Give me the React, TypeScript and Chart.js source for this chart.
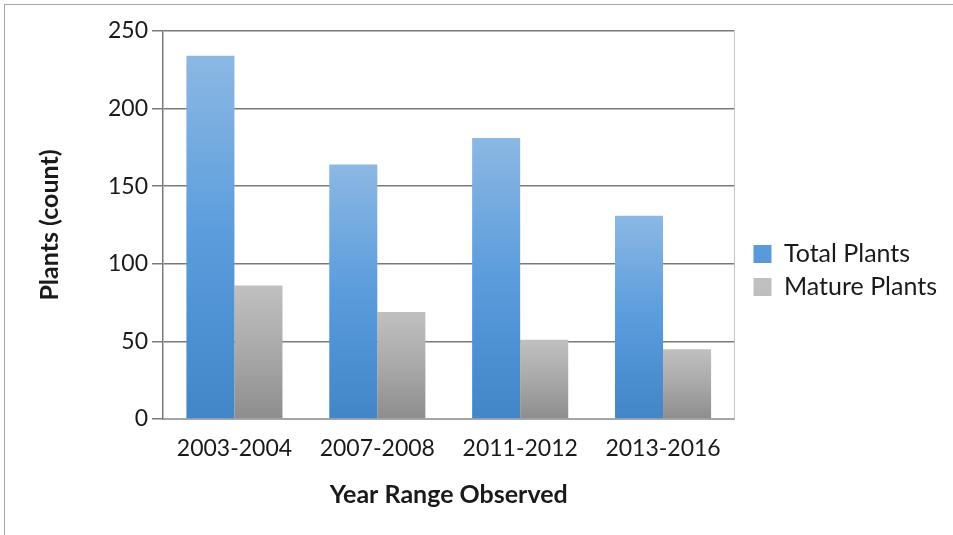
import React, { useEffect, useRef } from "react";
import { Chart, registerables } from "chart.js";

Chart.register(...registerables);

// Survey periods and observed plant counts
const yearRanges = ["2003-2004", "2007-2008", "2011-2012", "2013-2016"];
const totalPlants = [234, 164, 181, 131];
const maturePlants = [86, 69, 51, 45];
const yTicks = [0, 50, 100, 150, 200, 250];

const FONT = "Lato, 'Open Sans', sans-serif";

const blueStops = ["#8cb8e3", "#5a9cdc", "#4286c8"];
const grayStops = ["#c0c0c0", "#a9a9a9", "#8d8d8d"];

// Vertical gradient running over each bar's own height
const barGradient = (stops: string[]) => (ctx: any) => {
  const chart = ctx.chart;
  const y = chart.scales && chart.scales.y;
  if (ctx.type !== "data" || !y) return stops[1];
  const top = y.getPixelForValue(ctx.raw);
  const bottom = y.getPixelForValue(0);
  if (!isFinite(top) || !isFinite(bottom) || top === bottom) return stops[1];
  const g = chart.ctx.createLinearGradient(0, top, 0, bottom);
  g.addColorStop(0, stops[0]);
  g.addColorStop(0.5, stops[1]);
  g.addColorStop(1, stops[2]);
  return g;
};

// Light border on the right side of the plot area
const plotFrame = {
  id: "plotFrame",
  beforeDatasetsDraw(chart: any) {
    const { ctx, chartArea } = chart;
    ctx.save();
    ctx.strokeStyle = "#c4c4c4";
    ctx.lineWidth = 1;
    ctx.beginPath();
    ctx.moveTo(Math.round(chartArea.right) + 0.5, chartArea.top);
    ctx.lineTo(Math.round(chartArea.right) + 0.5, chartArea.bottom);
    ctx.stroke();
    ctx.restore();
  },
};

export default function App() {
  const canvasRef = useRef<HTMLCanvasElement | null>(null);

  useEffect(() => {
    document.body.style.margin = "0";
    const canvas = canvasRef.current;
    if (!canvas) return;
    const chart = new Chart(canvas, {
      type: "bar",
      data: {
        labels: yearRanges,
        datasets: [
          {
            label: "Total Plants",
            data: totalPlants,
            backgroundColor: barGradient(blueStops),
            borderWidth: 0,
          },
          {
            label: "Mature Plants",
            data: maturePlants,
            backgroundColor: barGradient(grayStops),
            borderWidth: 0,
          },
        ],
      },
      options: {
        animation: false,
        responsive: true,
        maintainAspectRatio: false,
        layout: { padding: { left: 31, top: 31, right: 6, bottom: 25 } },
        datasets: { bar: { categoryPercentage: 0.6725, barPercentage: 1 } },
        plugins: {
          tooltip: { enabled: false },
          legend: {
            position: "right",
            align: "center",
            maxWidth: 260,
            labels: {
              font: { family: FONT, size: 25 },
              color: "#1a1a1a",
              boxWidth: 18,
              boxHeight: 18,
              padding: 8,
            },
          },
        },
        scales: {
          x: {
            grid: { display: false, drawTicks: false },
            border: { display: true, color: "#a6a6a6", width: 2 },
            ticks: {
              font: { family: FONT, size: 23 },
              color: "#1a1a1a",
              padding: 16,
              maxRotation: 0,
            },
            title: {
              display: true,
              text: "Year Range Observed",
              font: { family: FONT, size: 25, weight: "bold" },
              color: "#1a1a1a",
              padding: { top: 0, bottom: 0 },
            },
            afterFit: (s: any) => {
              s.height = 91;
            },
          },
          y: {
            min: 0,
            max: 250,
            afterBuildTicks: (s: any) => {
              s.ticks = yTicks.map((v) => ({ value: v }));
            },
            grid: {
              color: (c: any) => (c.tick && c.tick.value === 0 ? "rgba(0,0,0,0)" : "#7a7a7a"),
              lineWidth: 1.5,
              tickLength: 11,
              tickColor: "#7a7a7a",
            },
            border: { display: true, color: "#7a7a7a", width: 1.5 },
            ticks: {
              font: { family: FONT, size: 23 },
              color: "#1a1a1a",
              padding: 4,
            },
            title: {
              display: true,
              text: "Plants (count)",
              font: { family: FONT, size: 25, weight: "bold" },
              color: "#1a1a1a",
              padding: { top: 4, bottom: 0 },
            },
            afterFit: (s: any) => {
              s.width = 132;
            },
          },
          spacer: {
            position: "right",
            display: true,
            grid: { display: false, drawTicks: false },
            border: { display: false },
            ticks: { display: false },
            afterFit: (s: any) => {
              s.width = 11;
            },
          },
        },
      },
      plugins: [plotFrame],
    });
    return () => chart.destroy();
  }, []);

  return (
    <div style={{ position: "relative", width: 953, height: 535, overflow: "hidden", background: "#fff" }}>
      <canvas ref={canvasRef} />
      <div
        style={{
          position: "absolute",
          left: 4,
          top: 4,
          width: 960,
          height: 540,
          borderTop: "1.5px solid #a8a8a8",
          borderLeft: "1.5px solid #a8a8a8",
          pointerEvents: "none",
        }}
      />
    </div>
  );
}
